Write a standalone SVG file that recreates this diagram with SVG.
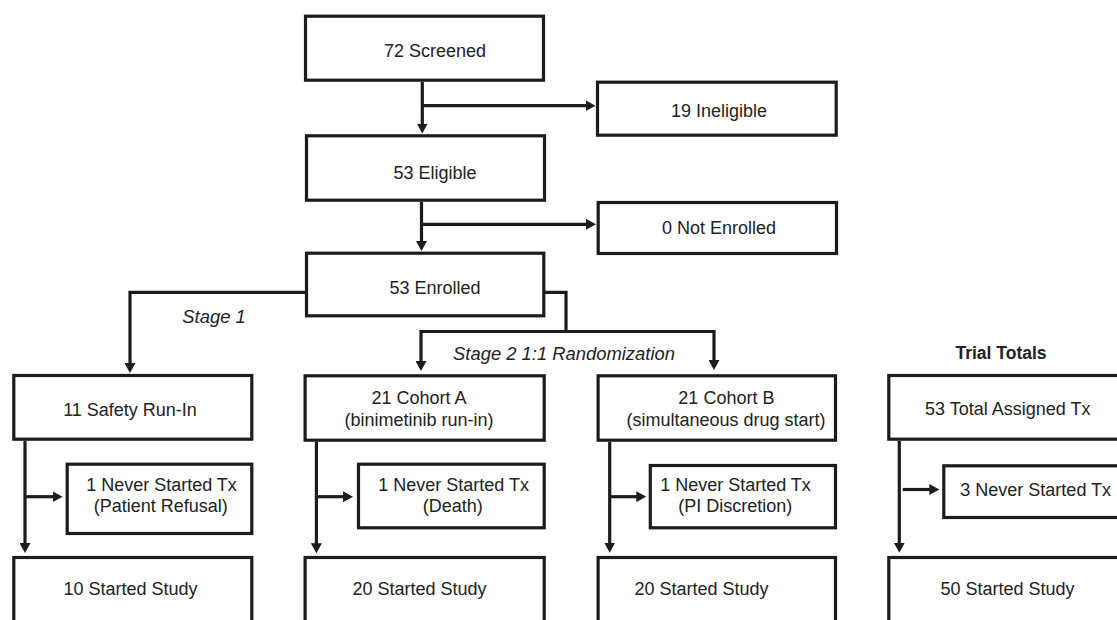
<svg xmlns="http://www.w3.org/2000/svg" width="1117" height="620" viewBox="0 0 1117 620">
<defs>
<style>
.box{fill:#ffffff;stroke:#1c1c1c;stroke-width:3.2;}
.ln{fill:none;stroke:#1c1c1c;stroke-width:3.2;stroke-linejoin:miter;}
.ar{marker-end:url(#arr);}
text{font-family:"Liberation Sans",Arial,Helvetica,sans-serif;font-size:18px;fill:#222222;text-anchor:middle;}
.it{font-style:italic;font-size:18.4px;}
.bd{font-weight:bold;font-size:17.5px;}
</style>
<marker id="arr" markerUnits="userSpaceOnUse" markerWidth="10" markerHeight="11" viewBox="0 0 10 11" refX="1" refY="5.5" orient="auto">
<path d="M0,0 L10,5.5 L0,11 z" fill="#1c1c1c"/>
</marker>
</defs>
<rect width="1117" height="620" fill="#ffffff"/>

<g id="connectors">
<path class="ln ar" d="M422.3,82 V124.5"/>
<path class="ln ar" d="M422.3,105.7 H586.5"/>
<path class="ln ar" d="M421.5,202 V242"/>
<path class="ln ar" d="M421.5,224.3 H587"/>
<path class="ln ar" d="M305,292.3 H130 V364"/>
<path class="ln" d="M545,292.3 H566 V333"/>
<path class="ln ar" d="M567,331.5 H421 V362"/>
<path class="ln ar" d="M565,331.5 H714 V361"/>
<path class="ln ar" d="M25,441 V544"/>
<path class="ln ar" d="M25,496.7 H53.5"/>
<path class="ln ar" d="M316.4,442 V544.3"/>
<path class="ln ar" d="M316.4,496.7 H344"/>
<path class="ln ar" d="M609.7,442 V543.7"/>
<path class="ln ar" d="M609.7,496.7 H637.3"/>
<path class="ln ar" d="M899.3,441 V543.7"/>
<path class="ln ar" d="M902.7,489.5 H930.3"/>
</g>

<g id="labels">
<text class="it" x="214" y="322.5">Stage 1</text>
<text class="it" x="564" y="360">Stage 2 1:1 Randomization</text>
<text class="bd" x="1001" y="359.3">Trial Totals</text>
</g>

<g id="screened">
<rect class="box" x="305.5" y="16.2" width="238" height="64"/>
<text x="435" y="56.5">72 Screened</text>
</g>
<g id="ineligible">
<rect class="box" x="597.5" y="82.2" width="238.7" height="53"/>
<text x="719" y="116.5">19 Ineligible</text>
</g>
<g id="eligible">
<rect class="box" x="306.5" y="135.8" width="238" height="64.4"/>
<text x="435" y="178.5">53 Eligible</text>
</g>
<g id="not-enrolled">
<rect class="box" x="598.2" y="202.5" width="238.3" height="51"/>
<text x="719" y="234.3">0 Not Enrolled</text>
</g>
<g id="enrolled">
<rect class="box" x="306.5" y="253.2" width="237.3" height="62.6"/>
<text x="435" y="294.3">53 Enrolled</text>
</g>

<g id="safety-run-in">
<rect class="box" x="13.8" y="375.5" width="238" height="63.7"/>
<text x="130" y="416">11 Safety Run-In</text>
</g>
<g id="never-started-1">
<rect class="box" x="67.2" y="464.2" width="184.6" height="69.3"/>
<text x="161.5" y="490.7">1 Never Started Tx</text>
<text x="160.8" y="512">(Patient Refusal)</text>
</g>
<g id="started-1">
<rect class="box" x="13.8" y="557.5" width="238" height="90"/>
<text x="130.5" y="595.3">10 Started Study</text>
</g>

<g id="cohort-a">
<rect class="box" x="305.1" y="375.8" width="239.1" height="64.4"/>
<text x="419" y="404.3">21 Cohort A</text>
<text x="419" y="426">(binimetinib run-in)</text>
</g>
<g id="never-started-a">
<rect class="box" x="358.5" y="464.2" width="185.7" height="63.6"/>
<text x="453.6" y="490.7">1 Never Started Tx</text>
<text x="452.7" y="512">(Death)</text>
</g>
<g id="started-a">
<rect class="box" x="305.1" y="557.5" width="239.1" height="90"/>
<text x="419.5" y="595.3">20 Started Study</text>
</g>

<g id="cohort-b">
<rect class="box" x="598.1" y="375.8" width="237.4" height="64.4"/>
<text x="726.4" y="404.3">21 Cohort B</text>
<text x="726" y="426">(simultaneous drug start)</text>
</g>
<g id="never-started-b">
<rect class="box" x="650.3" y="465.5" width="185.2" height="62.3"/>
<text x="735.5" y="490.5">1 Never Started Tx</text>
<text x="735.3" y="512">(PI Discretion)</text>
</g>
<g id="started-b">
<rect class="box" x="598.1" y="557.5" width="237.4" height="90"/>
<text x="701.5" y="595.3">20 Started Study</text>
</g>

<g id="total-assigned">
<rect class="box" x="888.8" y="375.5" width="260" height="63.7"/>
<text x="1007.7" y="415">53 Total Assigned Tx</text>
</g>
<g id="never-started-total">
<rect class="box" x="943.8" y="465.8" width="200" height="51.7"/>
<text x="1035.7" y="496">3 Never Started Tx</text>
</g>
<g id="started-total">
<rect class="box" x="888.8" y="557.5" width="260" height="90"/>
<text x="1007.5" y="595.3">50 Started Study</text>
</g>
</svg>
